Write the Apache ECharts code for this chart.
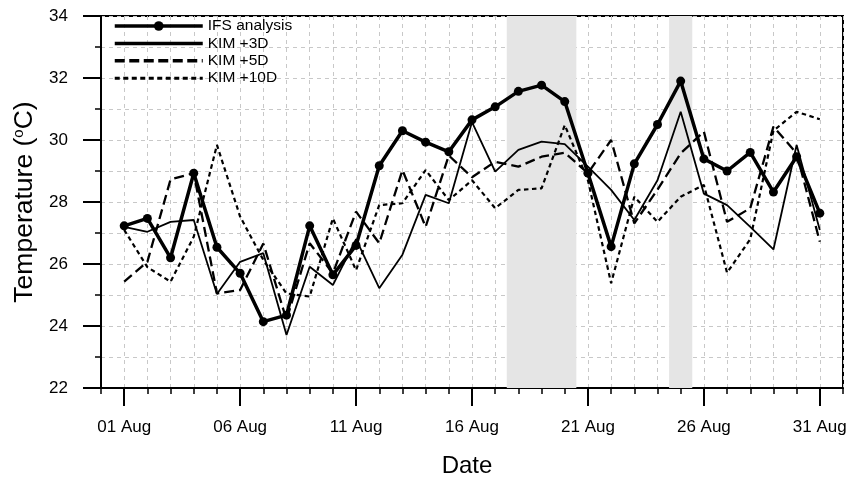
<!DOCTYPE html>
<html><head><meta charset="utf-8">
<script src="https://cdn.jsdelivr.net/npm/echarts@6/dist/echarts.min.js"></script>
<style>html,body{margin:0;padding:0;background:#fff}#c{width:851px;height:478px}</style>
</head><body><div id="c"></div>
<script>
const days = [1,2,3,4,5,6,7,8,9,10,11,12,13,14,15,16,17,18,19,20,21,22,23,24,25,26,27,28,29,30,31];
const ifs   = [27.23,27.47,26.2,28.93,26.54,25.7,24.14,24.35,27.23,25.65,26.6,29.17,30.3,29.93,29.62,30.65,31.07,31.57,31.77,31.24,28.93,26.56,29.23,30.5,31.9,29.39,29.0,29.6,28.32,29.46,27.64];
const kim3  = [27.2,27.04,27.36,27.42,25.03,26.07,26.35,23.71,25.91,25.32,26.8,25.22,26.3,28.23,27.96,30.58,28.98,29.68,29.95,29.87,29.14,28.39,27.42,28.7,30.91,28.27,27.9,27.2,26.47,29.84,27.1];
const kim5  = [25.43,26.07,28.73,28.93,25.05,25.16,26.66,24.2,26.67,25.7,27.69,26.67,29.03,27.2,29.5,28.8,29.3,29.14,29.46,29.59,28.93,30.0,27.31,28.4,29.57,30.27,27.36,27.8,30.43,29.57,26.72];
const kim10 = [27.1,25.9,25.43,26.88,29.84,27.53,26.13,25.05,24.95,27.47,25.8,27.9,27.96,29.03,28.06,28.7,27.8,28.39,28.44,30.48,28.7,25.38,28.17,27.36,28.17,28.55,25.72,26.8,30.3,30.91,30.67];
const tickDays = [1,6,11,16,21,26,31];
const tickLabels = ['01 Aug','06 Aug','11 Aug','16 Aug','21 Aug','26 Aug','31 Aug'];
const shadeStart = [17.5, 24.5];
const shadeEnd   = [20.5, 25.5];
const seriesNames = ['IFS analysis','KIM +3D','KIM +5D','KIM +10D'];

const pairs = arr => days.map((d,i)=>[d, arr[i]]);
const font = '"Liberation Sans", Arial, Helvetica, sans-serif';
const gridLine = {show:true, lineStyle:{color:'#c8c8c8', width:1, type:[4,4]}};
const dash5 = [10,5], dash10 = [4.5,3.5];
const hidden = {opacity:0, color:'rgba(0,0,0,0)', borderWidth:0};

const chart = echarts.init(document.getElementById('c'), null, {renderer:'canvas'});
chart.setOption({
  animation:false,
  backgroundColor:'#fff',
  grid:{left:101, right:8, top:16, bottom:90, outerBoundsMode:'none', containLabel:false, show:true, borderColor:'#000', borderWidth:2, backgroundColor:'transparent'},
  legend:{
    orient:'vertical', left:113, top:18, padding:0, itemWidth:88, itemHeight:12, itemGap:1.4,
    textStyle:{fontFamily:font, fontSize:15.5, color:'#000'},
    data:[
      {name:seriesNames[0], lineStyle:{width:3.5}},
      {name:seriesNames[1], lineStyle:{width:3.5}, itemStyle:hidden},
      {name:seriesNames[2], lineStyle:{width:3.5, type:[10,4.5]}, itemStyle:hidden},
      {name:seriesNames[3], lineStyle:{width:3, type:[5,3.5]}, itemStyle:hidden}
    ]
  },
  xAxis:[{
    type:'value', min:0, max:32, position:'bottom',
    axisLine:{show:true, onZero:false, lineStyle:{color:'#000', width:2}},
    axisTick:{show:true, length:18, lineStyle:{color:'#000', width:2}, customValues:tickDays},
    axisLabel:{show:true, customValues:tickDays, margin:31, fontFamily:font, fontSize:17, color:'#000',
      formatter:v=>{const i=tickDays.indexOf(Math.round(v)); return i>=0?tickLabels[i]:'';}},
    splitLine:{show:false},
    name:'Date', nameLocation:'middle', nameGap:66,
    nameTextStyle:{fontFamily:font, fontSize:24, color:'#000', padding:[0,10,0,0]}
  },{
    type:'value', min:0, max:32, interval:1, position:'bottom',
    axisLine:{show:false},
    axisTick:{show:true, length:6, lineStyle:{color:'#000', width:1.5}},
    axisLabel:{show:false},
    splitLine:gridLine
  }],
  yAxis:{
    type:'value', min:22, max:34, interval:2,
    axisLine:{show:true, lineStyle:{color:'#000', width:2}},
    axisTick:{show:true, length:18, lineStyle:{color:'#000', width:2}},
    minorTick:{show:true, splitNumber:2, length:6, lineStyle:{color:'#000', width:1.5}},
    axisLabel:{margin:33, fontFamily:font, fontSize:17, color:'#000'},
    splitLine:gridLine,
    minorSplitLine:{show:true, lineStyle:{color:'#c8c8c8', width:1, type:[4,4]}},
    name:'{t|Temperature (}{s|o}{t|C)}', nameLocation:'middle', nameGap:52, nameRotate:90,
    nameTextStyle:{rich:{t:{fontFamily:font, fontSize:26.5, color:'#000'}, s:{fontFamily:font, fontSize:15, color:'#000', verticalAlign:'top', padding:[0,0,10,0]}}}
  },
  series:[
    {name:seriesNames[0], type:'line', xAxisIndex:0, data:pairs(ifs), symbol:'circle', symbolSize:9,
      itemStyle:{color:'#000'}, lineStyle:{color:'#000', width:3.5}, z:5,
      markArea:{silent:true, itemStyle:{color:'#e5e5e5'},
        data:shadeStart.map((s,i)=>[{xAxis:s},{xAxis:shadeEnd[i]}])}},
    {name:seriesNames[1], type:'line', xAxisIndex:0, data:pairs(kim3), showSymbol:false, symbol:'none',
      itemStyle:{color:'#000'}, lineStyle:{color:'#000', width:1.8}},
    {name:seriesNames[2], type:'line', xAxisIndex:0, data:pairs(kim5), showSymbol:false, symbol:'none',
      itemStyle:{color:'#000'}, lineStyle:{color:'#000', width:2.3, type:dash5}},
    {name:seriesNames[3], type:'line', xAxisIndex:0, data:pairs(kim10), showSymbol:false, symbol:'none',
      itemStyle:{color:'#000'}, lineStyle:{color:'#000', width:2.2, type:dash10}}
  ]
});
</script></body></html>
